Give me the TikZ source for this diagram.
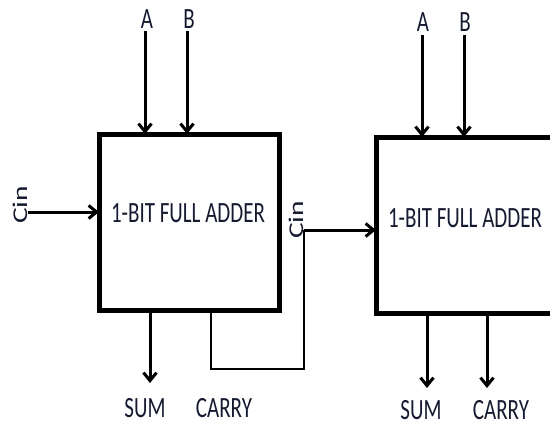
\documentclass[tikz,border=0pt]{standalone}
\usepackage{fontspec}
\setmainfont{Carlito}
\usetikzlibrary{arrows.meta}
\definecolor{txt}{RGB}{22,26,48}
\tikzset{
  boxline/.style={line width=5pt},
  sig/.style={line width=3pt,-{Straight Barb[length=8pt,width=13pt,line width=3pt]}},
  wire/.style={line width=2.6pt},
  lab/.style={inner sep=0pt,anchor=base,text=txt,font=\fontsize{28}{30}\selectfont},
  vlab/.style={inner sep=0pt,anchor=center,text=txt,font=\fontsize{28}{30}\selectfont}
}
\newcommand{\hs}[1]{\scalebox{0.75}[1.05]{#1}}
\newcommand{\vs}[1]{\rotatebox{90}{\scalebox{1.05}[0.75]{#1}}}
\begin{document}
\begin{tikzpicture}[x=1pt,y=-1pt]
\useasboundingbox (0,0) rectangle (550,426);
\clip (0,0) rectangle (550,426);
% boxes
\draw[boxline] (99,134) rectangle (279,310);
\draw[boxline] (376,137) rectangle (580,313);
\node[lab] (t1) at (188,222) {\hs{1-BIT FULL ADDER}};
\node[lab] (t2) at (465,227) {\hs{1-BIT FULL ADDER}};
% box 1 inputs
\node[lab] (a1) at (147,28) {\hs{A}};
\node[lab] (b1) at (189,28) {\hs{B}};
\coordinate (a1s) at (145,31); \coordinate (a1e) at (145,134);
\coordinate (b1s) at (187,31); \coordinate (b1e) at (187,134);
\draw[sig] (a1s) -- (a1e);
\draw[sig] (b1s) -- (b1e);
\node[vlab] (cin1) at (20,205) {\vs{Cin}};
\coordinate (c1s) at (28,212); \coordinate (c1e) at (99,212);
\draw[sig] (c1s) -- (c1e);
% box 1 outputs
\coordinate (s1s) at (150,310); \coordinate (s1e) at (150,383);
\draw[sig] (s1s) -- (s1e);
\node[lab] (sum1) at (145,417) {\hs{SUM}};
\node[lab] (car1) at (224,417) {\hs{CARRY}};
% carry connector
\coordinate (k0) at (211,310);
\coordinate (k1) at (211,369);
\coordinate (k2) at (304,369);
\coordinate (k3) at (304,230);
\coordinate (k4) at (376,230);
\draw[wire] (k0) -- (k1) -- (k2) -- (k3);
\draw[sig] (k3) -- (k4);
\node[vlab] (cin2) at (296,220) {\vs{Cin}};
% box 2 inputs
\node[lab] (a2) at (423,31) {\hs{A}};
\node[lab] (b2) at (465,31) {\hs{B}};
\coordinate (a2s) at (422,35); \coordinate (a2e) at (422,137);
\coordinate (b2s) at (464,35); \coordinate (b2e) at (464,137);
\draw[sig] (a2s) -- (a2e);
\draw[sig] (b2s) -- (b2e);
% box 2 outputs
\coordinate (s2s) at (427,313); \coordinate (s2e) at (427,388);
\coordinate (r2s) at (487,313); \coordinate (r2e) at (487,388);
\draw[sig] (s2s) -- (s2e);
\draw[sig] (r2s) -- (r2e);
\node[lab] (sum2) at (421,419) {\hs{SUM}};
\node[lab] (car2) at (501,419) {\hs{CARRY}};
\end{tikzpicture}
\end{document}
